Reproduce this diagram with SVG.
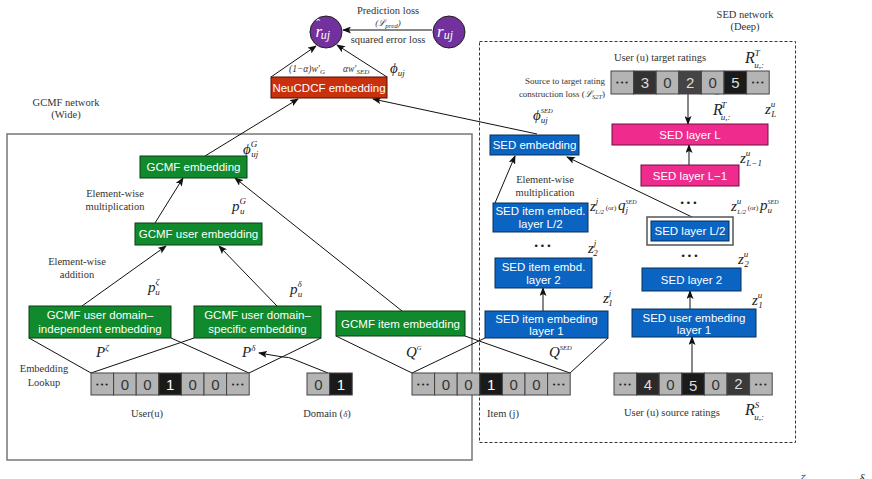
<svg xmlns="http://www.w3.org/2000/svg" width="872" height="479" viewBox="0 0 872 479">
<defs>
<marker id="ah" markerUnits="userSpaceOnUse" markerWidth="9" markerHeight="7" refX="8" refY="3.5" orient="auto"><path d="M0,0 L9,3.5 L0,7 L2,3.5 z" fill="#111"/></marker>
<style>
.lbl{font-family:"Liberation Serif",serif;font-size:10.5px;fill:#333;text-anchor:middle}
.sm{font-family:"Liberation Serif",serif;font-size:9px;fill:#333}
.mi{font-family:"Liberation Serif",serif;font-style:italic;font-size:15px;fill:#222}
.s{font-size:9px}
.bt{font-family:"Liberation Sans",Arial,sans-serif;font-size:11.5px;fill:#fff;text-anchor:middle}
.g{fill:#108a2c;stroke:#0a3f15;stroke-width:1}
.b{fill:#0b64c2;stroke:#062e5a;stroke-width:1}
.p{fill:#ef2c8e;stroke:#6e0f3f;stroke-width:1}
.r{fill:#c9300d;stroke:#4e0e00;stroke-width:1}
.c{fill:#72319c;stroke:#222;stroke-width:1}
.lt{fill:#b4b4b4;stroke:#444;stroke-width:1}
.dk{stroke:#444;stroke-width:1}
.ct{font-family:"Liberation Sans",Arial,sans-serif;font-size:15px;text-anchor:middle}
.dots{font-family:"DejaVu Sans",sans-serif;font-size:9px;text-anchor:middle;fill:#222;letter-spacing:1px}
.cd{font-family:"DejaVu Sans",sans-serif;font-size:7px;text-anchor:middle;fill:#222;letter-spacing:0.5px}
.cn{stroke:#111;stroke-width:1;fill:none}
</style>
</defs>
<rect width="872" height="479" fill="#fff"/>

<!-- frames -->
<rect x="7" y="134" width="465" height="326" fill="none" stroke="#777" stroke-width="1.5"/>
<rect x="479.5" y="41.5" width="316" height="401" fill="none" stroke="#333" stroke-width="1" stroke-dasharray="3,2"/>

<!-- free labels -->
<text class="lbl" x="66" y="106">GCMF  network</text>
<text class="lbl" x="66" y="118">(Wide)</text>
<text class="lbl" x="745" y="18">SED  network</text>
<text class="lbl" x="745" y="30">(Deep)</text>
<text class="lbl" x="388" y="14">Prediction  loss</text>
<text class="lbl" x="388" y="26" style="font-size:9px;font-style:italic">(ℒ<tspan font-size="7" dy="2">pred</tspan><tspan dy="-2">)</tspan></text>
<text class="lbl" x="388" y="43">squared  error  loss</text>
<text class="lbl" x="115" y="197">Element-wise</text>
<text class="lbl" x="115" y="210">multiplication</text>
<text class="lbl" x="77" y="265">Element-wise</text>
<text class="lbl" x="77" y="278">addition</text>
<text class="lbl" x="545" y="183">Element-wise</text>
<text class="lbl" x="545" y="196">multiplication</text>
<text class="lbl" x="44" y="372">Embedding</text>
<text class="lbl" x="44" y="386">Lookup</text>
<text class="lbl" x="147" y="417">User(u)</text>
<text class="lbl" x="327" y="417">Domain  (<tspan font-style="italic" font-size="9">δ</tspan>)</text>
<text class="lbl" x="503" y="417">Item  (j)</text>
<text class="lbl" x="672" y="416">User  (u)  source  ratings</text>
<text class="lbl" x="660" y="61">User  (u)  target  ratings</text>
<text class="sm" x="605" y="84" text-anchor="end">Source to target rating</text>
<text class="sm" x="605" y="97" text-anchor="end">construction loss (<tspan font-style="italic">ℒ</tspan><tspan font-style="italic" font-size="6.5" dy="2">S2T</tspan><tspan dy="-2">)</tspan></text>

<!-- math labels -->
<text class="mi" x="390" y="73">ϕ<tspan class="s" dy="3">uj</tspan></text>
<text class="mi" x="289" y="72" style="font-size:9.5px;fill:#333">(1−α)w′<tspan font-size="7" dy="2">G</tspan></text>
<text class="mi" x="343" y="72" style="font-size:9.5px;fill:#333">αw′<tspan font-size="7" dy="2">SED</tspan></text>
<text class="mi" x="243" y="154">ϕ<tspan class="s" dy="-7">G</tspan><tspan class="s" dx="-6" dy="10">uj</tspan></text>
<text class="mi" x="533" y="120">ϕ<tspan font-size="6.5" dy="-7">SED</tspan><tspan class="s" dx="-12" dy="10">uj</tspan></text>
<text class="mi" x="232" y="211">p<tspan class="s" dy="-7">G</tspan><tspan class="s" dx="-6" dy="10">u</tspan></text>
<text class="mi" x="148" y="292">p<tspan class="s" dy="-7">ζ</tspan><tspan class="s" dx="-4" dy="10">u</tspan></text>
<text class="mi" x="290" y="294">p<tspan class="s" dy="-7">δ</tspan><tspan class="s" dx="-4" dy="10">u</tspan></text>
<text class="mi" x="96" y="357">P<tspan class="s" dy="-6">ζ</tspan></text>
<text class="mi" x="242" y="357">P<tspan class="s" dy="-6">δ</tspan></text>
<text class="mi" x="406" y="357">Q<tspan font-size="6.5" dy="-7">G</tspan></text>
<text class="mi" x="549" y="357">Q<tspan font-size="6.5" dy="-7">SED</tspan></text>
<text class="mi" x="745" y="63" style="font-size:16px">R<tspan class="s" dy="-7">T</tspan><tspan class="s" dx="-5" dy="12">u,:</tspan></text>
<text class="mi" x="713" y="115" style="font-size:16px">R<tspan font-size="12" dx="-8.5" dy="-13">ˆ</tspan><tspan class="s" dx="3" dy="6">T</tspan><tspan class="s" dx="-5" dy="12">u,:</tspan></text>
<text class="mi" x="745" y="415" style="font-size:16px">R<tspan class="s" dy="-7">S</tspan><tspan class="s" dx="-5" dy="12">u,:</tspan></text>
<text class="mi" x="765" y="114">z<tspan class="s" dy="-7">u</tspan><tspan class="s" dx="-4" dy="10">L</tspan></text>
<text class="mi" x="740" y="163">z<tspan class="s" dy="-7">u</tspan><tspan class="s" dx="-4" dy="10">L−1</tspan></text>
<text class="mi" x="731" y="211">z<tspan class="s" dy="-7">u</tspan><tspan font-size="6.5" dx="-4" dy="10">L/2</tspan><tspan font-style="normal" font-size="7" dy="-4"> (or) </tspan><tspan>p</tspan><tspan font-size="6" dy="-6">SED</tspan><tspan class="s" dx="-11" dy="9">u</tspan></text>
<text class="mi" x="590" y="211">z<tspan class="s" dy="-7">j</tspan><tspan font-size="6.5" dx="-3" dy="10">L/2</tspan><tspan font-style="normal" font-size="7" dy="-4"> (or) </tspan><tspan>q</tspan><tspan font-size="6" dy="-6">SED</tspan><tspan class="s" dx="-11" dy="9">j</tspan></text>
<text class="mi" x="588" y="253">z<tspan class="s" dy="-7">j</tspan><tspan class="s" dx="-3" dy="10">2</tspan></text>
<text class="mi" x="603" y="303">z<tspan class="s" dy="-7">j</tspan><tspan class="s" dx="-3" dy="10">1</tspan></text>
<text class="mi" x="738" y="264">z<tspan class="s" dy="-7">u</tspan><tspan class="s" dx="-4" dy="10">2</tspan></text>
<text class="mi" x="752" y="305">z<tspan class="s" dy="-7">u</tspan><tspan class="s" dx="-4" dy="10">1</tspan></text>
<text class="dots" x="543" y="249">•••</text>
<text class="dots" x="689" y="206">•••</text>
<text class="dots" x="690" y="259">•••</text>
<text class="mi" x="800" y="483" style="font-size:12px">ζ</text>
<text class="mi" x="859" y="483" style="font-size:12px">δ</text>

<!-- connectors -->
<g id="connectors">
<path class="cn" d="M432,30 L343,30" marker-end="url(#ah)"/>
<path class="cn" d="M271,77 L316,46" marker-end="url(#ah)"/>
<path class="cn" d="M387,77 L337,45" marker-end="url(#ah)"/>
<path class="cn" d="M205,156 L298,99" marker-end="url(#ah)"/>
<path class="cn" d="M537,134 L373,99" marker-end="url(#ah)"/>
<path class="cn" d="M688,94 L688,124" marker-end="url(#ah)"/>
<path class="cn" d="M689,165 L689,145" marker-end="url(#ah)"/>
<path class="cn" d="M692,217 L567,157" marker-end="url(#ah)"/>
<path class="cn" d="M495,203 L515,156" marker-end="url(#ah)"/>
<path class="cn" d="M543,311 L543,288" marker-end="url(#ah)"/>
<path class="cn" d="M690,309 L690,291" marker-end="url(#ah)"/>
<path class="cn" d="M692,373 L692,337" marker-end="url(#ah)"/>
<path class="cn" d="M155,223 L183,178" marker-end="url(#ah)"/>
<path class="cn" d="M402,311 L235,178" marker-end="url(#ah)"/>
<path class="cn" d="M82,306 L166,246" marker-end="url(#ah)"/>
<path class="cn" d="M277,306 L219,246" marker-end="url(#ah)"/>
<path class="cn" d="M29,338 L91,373 M171,338 L249,373 M194,338 L91,373 M321,338 L249,373 M336,336 L412,373 M465,336 L570,373 M485,338 L412,373 M608,338 L570,373"/>
<path class="cn" d="M328,373 L293,359 Q289,357 283,357 L259,353" marker-end="url(#ah)"/>
</g>

<!-- nodes -->
<g id="r_hat"><circle class="c" cx="326" cy="32" r="16"/><text class="mi" x="315" y="37" style="fill:#fff;font-size:17px">r<tspan font-size="13" dx="-7" dy="-9">ˆ</tspan><tspan font-size="12" dx="1.5" dy="11">uj</tspan></text></g>
<g id="r_true"><circle class="c" cx="449" cy="32" r="16"/><text class="mi" x="437" y="37" style="fill:#fff;font-size:17px">r<tspan font-size="12" dy="2">uj</tspan></text></g>
<g id="neucdcf"><rect class="r" x="271" y="77" width="116" height="21"/><text class="bt" x="329" y="92">NeuCDCF embedding</text></g>
<g id="gcmf_emb"><rect class="g" x="140" y="156" width="107" height="22"/><text class="bt" x="193.5" y="171">GCMF embedding</text></g>
<g id="gcmf_user"><rect class="g" x="135" y="223" width="127" height="22"/><text class="bt" x="198.5" y="238">GCMF user embedding</text></g>
<g id="gcmf_indep"><rect class="g" x="29" y="306" width="142" height="32"/><text class="bt" x="100" y="319">GCMF user domain–</text><text class="bt" x="100" y="333">independent embedding</text></g>
<g id="gcmf_spec"><rect class="g" x="194" y="306" width="127" height="32"/><text class="bt" x="257.5" y="319">GCMF user domain–</text><text class="bt" x="257.5" y="333">specific embedding</text></g>
<g id="gcmf_item"><rect class="g" x="336" y="311" width="129" height="25"/><text class="bt" x="400.5" y="328">GCMF item embedding</text></g>
<g id="sed_emb"><rect class="b" x="490" y="135" width="89" height="20"/><text class="bt" x="534.5" y="149">SED embedding</text></g>
<g id="sed_item_l2half"><rect class="b" x="493" y="203" width="95" height="29"/><text class="bt" x="540.5" y="215">SED item embed.</text><text class="bt" x="540.5" y="228">layer L/2</text></g>
<g id="sed_item_2"><rect class="b" x="495" y="258" width="97" height="30"/><text class="bt" x="543.5" y="271">SED item embd.</text><text class="bt" x="543.5" y="284">layer 2</text></g>
<g id="sed_item_1"><rect class="b" x="485" y="311" width="123" height="27"/><text class="bt" x="546.5" y="323">SED item embeding</text><text class="bt" x="546.5" y="335">layer 1</text></g>
<g id="sed_L"><rect class="p" x="612" y="124" width="156" height="21"/><text class="bt" x="690" y="139">SED layer L</text></g>
<g id="sed_Lm1"><rect class="p" x="641" y="165" width="98" height="21"/><text class="bt" x="690" y="180">SED layer L−1</text></g>
<g id="sed_Lhalf"><rect x="647" y="217" width="86" height="28" fill="#fff" stroke="#555" stroke-width="1.5"/><rect class="b" x="651" y="221" width="78" height="20"/><text class="bt" x="690" y="235">SED layer L/2</text></g>
<g id="sed_2"><rect class="b" x="642" y="268" width="99" height="23"/><text class="bt" x="691.5" y="284">SED layer 2</text></g>
<g id="sed_user_1"><rect class="b" x="632" y="309" width="124" height="28"/><text class="bt" x="694" y="322">SED user embeding</text><text class="bt" x="694" y="334">layer 1</text></g>

<g id="user_vec">
<rect class="lt" x="91" y="373" width="22.6" height="22"/><rect class="lt" x="113.6" y="373" width="22.6" height="22"/><rect class="lt" x="136.2" y="373" width="22.6" height="22"/><rect class="dk" fill="#1a1a1a" x="158.8" y="373" width="22.6" height="22"/><rect class="lt" x="181.4" y="373" width="22.6" height="22"/><rect class="lt" x="204" y="373" width="22.6" height="22"/><rect class="lt" x="226.6" y="373" width="22.6" height="22"/>
<text class="cd" x="102.3" y="387">•••</text><text class="ct" fill="#333" x="124.9" y="390">0</text><text class="ct" fill="#333" x="147.5" y="390">0</text><text class="ct" fill="#fff" x="170.1" y="390">1</text><text class="ct" fill="#333" x="192.7" y="390">0</text><text class="ct" fill="#333" x="215.3" y="390">0</text><text class="cd" x="237.9" y="387">•••</text>
</g>
<g id="domain_vec">
<rect class="lt" x="307" y="373" width="22.6" height="22"/><rect class="dk" fill="#1a1a1a" x="329.6" y="373" width="22.6" height="22"/>
<text class="ct" fill="#333" x="318.3" y="390">0</text><text class="ct" fill="#fff" x="340.9" y="390">1</text>
</g>
<g id="item_vec">
<rect class="lt" x="412" y="373" width="22.6" height="22"/><rect class="lt" x="434.6" y="373" width="22.6" height="22"/><rect class="lt" x="457.2" y="373" width="22.6" height="22"/><rect class="dk" fill="#1a1a1a" x="479.8" y="373" width="22.6" height="22"/><rect class="lt" x="502.4" y="373" width="22.6" height="22"/><rect class="lt" x="525" y="373" width="22.6" height="22"/><rect class="lt" x="547.6" y="373" width="22.6" height="22"/>
<text class="cd" x="423.3" y="387">•••</text><text class="ct" fill="#333" x="445.9" y="390">0</text><text class="ct" fill="#333" x="468.5" y="390">0</text><text class="ct" fill="#fff" x="491.1" y="390">1</text><text class="ct" fill="#333" x="513.7" y="390">0</text><text class="ct" fill="#333" x="536.3" y="390">0</text><text class="cd" x="558.9" y="387">•••</text>
</g>
<g id="target_vec">
<rect class="lt" x="611" y="71" width="22.6" height="23"/><rect class="dk" fill="#333" x="633.6" y="71" width="22.6" height="23"/><rect class="lt" x="656.2" y="71" width="22.6" height="23"/><rect class="dk" fill="#444" x="678.8" y="71" width="22.6" height="23"/><rect class="lt" x="701.4" y="71" width="22.6" height="23"/><rect class="dk" fill="#1a1a1a" x="724" y="71" width="22.6" height="23"/><rect class="lt" x="746.6" y="71" width="22.6" height="23"/>
<text class="cd" x="622.3" y="85">•••</text><text class="ct" fill="#ddd" x="644.9" y="88">3</text><text class="ct" fill="#333" x="667.5" y="88">0</text><text class="ct" fill="#ddd" x="690.1" y="88">2</text><text class="ct" fill="#333" x="712.7" y="88">0</text><text class="ct" fill="#ddd" x="735.3" y="88">5</text><text class="cd" x="757.9" y="85">•••</text>
</g>
<g id="source_vec">
<rect class="lt" x="614" y="373" width="22.6" height="22"/><rect class="dk" fill="#2a2a2a" x="636.6" y="373" width="22.6" height="22"/><rect class="lt" x="659.2" y="373" width="22.6" height="22"/><rect class="dk" fill="#1a1a1a" x="681.8" y="373" width="22.6" height="22"/><rect class="lt" x="704.4" y="373" width="22.6" height="22"/><rect class="dk" fill="#3a3a3a" x="727" y="373" width="22.6" height="22"/><rect class="lt" x="749.6" y="373" width="22.6" height="22"/>
<text class="cd" x="625.3" y="387">•••</text><text class="ct" fill="#ddd" x="647.9" y="390">4</text><text class="ct" fill="#333" x="670.5" y="390">0</text><text class="ct" fill="#ddd" x="693.1" y="391">5</text><text class="ct" fill="#333" x="715.7" y="390">0</text><text class="ct" fill="#ddd" x="738.3" y="389">2</text><text class="cd" x="760.9" y="387">•••</text>
</g>
</svg>
